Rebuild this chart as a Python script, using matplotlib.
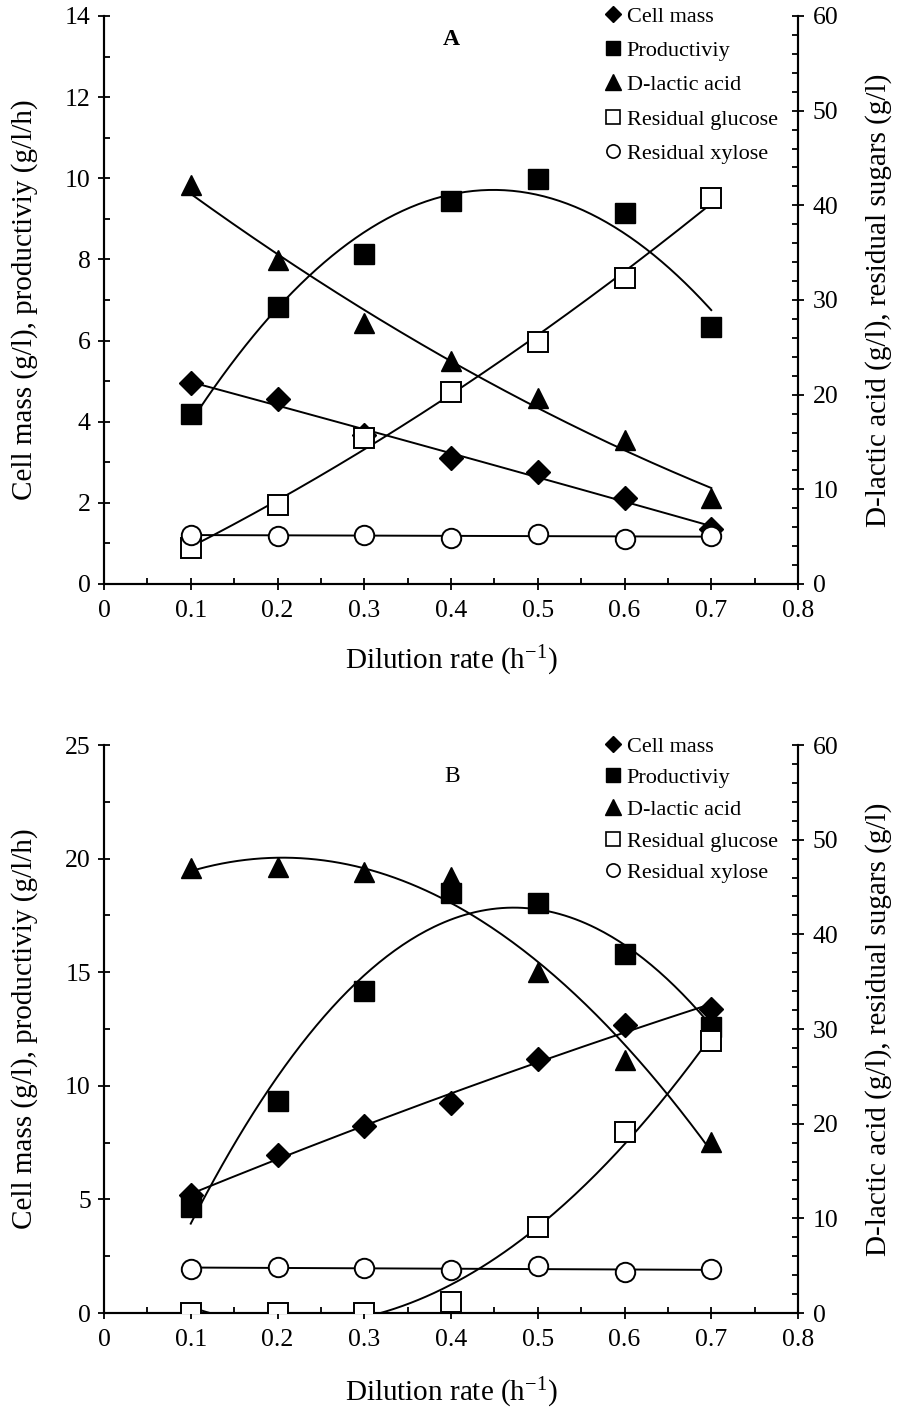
import numpy as np
import matplotlib.pyplot as plt
from matplotlib.lines import Line2D
from matplotlib.ticker import MultipleLocator

plt.rcParams['font.family'] = 'Liberation Serif'
plt.rcParams['mathtext.fontset'] = 'custom'
plt.rcParams['mathtext.rm'] = 'Liberation Serif'
plt.rcParams['mathtext.it'] = 'Liberation Serif:italic'

# dilution rates (h-1)
dilution = [0.1, 0.2, 0.3, 0.4, 0.5, 0.6, 0.7]

# panel A
a_cell_mass = [4.95, 4.55, 3.67, 3.10, 2.76, 2.12, 1.35]
a_productivity = [4.20, 6.82, 8.14, 9.44, 9.98, 9.14, 6.33]
a_lactic = [42.1, 34.2, 27.6, 23.6, 19.6, 15.2, 9.1]
a_glucose = [3.8, 8.3, 15.4, 20.3, 25.6, 32.3, 40.8]
a_xylose = [5.2, 5.1, 5.2, 4.9, 5.3, 4.8, 5.1]

# panel B
b_cell_mass = [5.2, 6.95, 8.23, 9.24, 11.2, 12.68, 13.4]
b_productivity = [4.67, 9.33, 14.17, 18.5, 18.05, 15.8, 12.6]
b_lactic = [47.0, 47.1, 46.6, 46.1, 36.0, 26.7, 18.1]
b_glucose = [0.0, 0.0, 0.0, 1.2, 9.1, 19.1, 28.7]
b_xylose = [4.65, 4.9, 4.8, 4.5, 5.0, 4.3, 4.6]

xticks = [0, 0.1, 0.2, 0.3, 0.4, 0.5, 0.6, 0.7, 0.8]
xtick_labels = ['0', '0.1', '0.2', '0.3', '0.4', '0.5', '0.6', '0.7', '0.8']
legend_labels = ['Cell mass', 'Productiviy', 'D-lactic acid',
                 'Residual glucose', 'Residual xylose']

LW = 1.4
LABEL_FS = 21
fig = plt.figure(figsize=(8.98, 14.07), dpi=100)


def trend(ax, y, deg):
    # polynomial trend line over the measured range
    coef = np.polyfit(dilution, y, deg)
    xs = np.linspace(dilution[0], dilution[-1], 200)
    ax.plot(xs, np.polyval(coef, xs), color='black', lw=LW, zorder=2)


def style_axis(ax):
    ax.tick_params(which='major', direction='inout', length=9, width=1.3,
                   labelsize=18.5)
    ax.tick_params(which='minor', direction='in', length=4, width=1.3)
    for s in ['left', 'right', 'bottom']:
        ax.spines[s].set_linewidth(1.5)
    ax.spines['top'].set_visible(False)


def panel(rect, cm, prod, lac, glu, xyl, ymax, ymajor, label, bold,
          label_y, xlabel_y, leg_y, leg_space):
    ax = fig.add_axes(rect)
    ax2 = ax.twinx()

    trend(ax, cm, 2)
    trend(ax, prod, 2)
    ax.plot(dilution, cm, 'D', color='black', ms=12.5, zorder=3)
    ax.plot(dilution, prod, 's', color='black', ms=14, zorder=3)

    trend(ax2, lac, 2)
    trend(ax2, glu, 2)
    trend(ax2, xyl, 1)
    ax2.plot(dilution, lac, '^', color='black', ms=15, zorder=3)
    ax2.plot(dilution, glu, 's', mfc='white', mec='black', mew=1.4, ms=14, zorder=3)
    ax2.plot(dilution, xyl, 'o', mfc='white', mec='black', mew=1.4, ms=14, zorder=3)

    ax.set_xlim(0, 0.8)
    ax.set_xticks(xticks)
    ax.set_xticklabels(xtick_labels)
    ax.xaxis.set_minor_locator(MultipleLocator(0.05))
    ax.set_ylim(0, ymax)
    ax.yaxis.set_major_locator(MultipleLocator(ymajor))
    ax.yaxis.set_minor_locator(MultipleLocator(ymajor / 2))
    ax2.set_ylim(0, 60)
    ax2.yaxis.set_major_locator(MultipleLocator(10))
    ax2.yaxis.set_minor_locator(MultipleLocator(2))
    style_axis(ax)
    style_axis(ax2)
    ax.tick_params(axis='y', pad=5)
    ax.tick_params(axis='x', pad=7)
    ax2.tick_params(axis='y', pad=6)

    ax.set_xlabel('Dilution rate (h$^{-1}$)', fontsize=LABEL_FS)
    ax.xaxis.set_label_coords(0.5, xlabel_y)
    ax.set_ylabel('Cell mass (g/l), productiviy (g/l/h)', fontsize=LABEL_FS)
    ax.yaxis.set_label_coords(-0.095, 0.5)
    ax2.set_ylabel('D-lactic acid (g/l), residual sugars (g/l)', fontsize=LABEL_FS)
    ax2.yaxis.set_label_coords(1.097, 0.5)

    ax.text(0.501, label_y, label, transform=ax.transAxes, ha='center',
            va='center', fontsize=17, fontweight='bold' if bold else 'normal')

    handles = [
        Line2D([], [], ls='none', marker='D', color='black', ms=8.5),
        Line2D([], [], ls='none', marker='s', color='black', ms=10.5),
        Line2D([], [], ls='none', marker='^', color='black', ms=11),
        Line2D([], [], ls='none', marker='s', mfc='white', mec='black', mew=1.2, ms=10.5),
        Line2D([], [], ls='none', marker='o', mfc='white', mec='black', mew=1.2, ms=9.5),
    ]
    fig.legend(handles, legend_labels, loc='upper left',
               bbox_to_anchor=(0.672, leg_y), frameon=False, fontsize=16,
               handlelength=0.9, handletextpad=0.15, labelspacing=leg_space,
               borderpad=0, borderaxespad=0)
    return ax


panel([104 / 898, 1 - 584 / 1407, 694 / 898, 568 / 1407],
      a_cell_mass, a_productivity, a_lactic, a_glucose, a_xylose,
      14, 2, 'A', True, 0.958, -0.105, 1 - 6 / 1407, 0.62)
panel([104 / 898, 1 - 1313 / 1407, 694 / 898, 568 / 1407],
      b_cell_mass, b_productivity, b_lactic, b_glucose, b_xylose,
      25, 5, 'B', False, 0.945, -0.11, 1 - 736 / 1407, 0.5)

fig.savefig('out.png', dpi=100)
